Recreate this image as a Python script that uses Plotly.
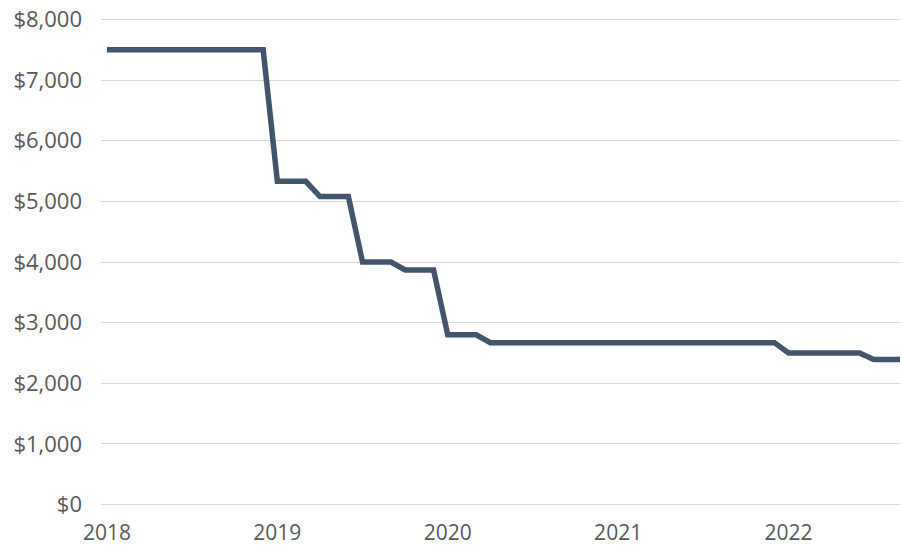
import plotly.graph_objects as go

# Monthly categories Jan 2018 - Sep 2022
years = [2018, 2019, 2020, 2021, 2022]
months = []
for y in years:
    for m in range(1, 13):
        months.append(f"{y}-{m:02d}")
months = months[:57]

values_2018 = [7500, 7500, 7500, 7500, 7500, 7500, 7500, 7500, 7500, 7500, 7500, 7500]
values_2019 = [5330, 5330, 5330, 5080, 5080, 5080, 4000, 4000, 4000, 3870, 3870, 3870]
values_2020 = [2800, 2800, 2800, 2670, 2670, 2670, 2670, 2670, 2670, 2670, 2670, 2670]
values_2021 = [2670, 2670, 2670, 2670, 2670, 2670, 2670, 2670, 2670, 2670, 2670, 2670]
values_2022 = [2500, 2500, 2500, 2500, 2500, 2500, 2390, 2390, 2390]
values = values_2018 + values_2019 + values_2020 + values_2021 + values_2022

tick_labels = ["2018", "2019", "2020", "2021", "2022"]
tick_cats = ["2018-01", "2019-01", "2020-01", "2021-01", "2022-01"]

y_ticks = [0, 1000, 2000, 3000, 4000, 5000, 6000, 7000, 8000]
y_tick_labels = ["$0", "$1,000", "$2,000", "$3,000", "$4,000", "$5,000", "$6,000", "$7,000", "$8,000"]

fig = go.Figure()
fig.add_trace(go.Scatter(
    x=months, y=values, mode="lines",
    line=dict(color="#44546A", width=5.5),
    showlegend=False, hoverinfo="skip",
))

font = dict(family="Open Sans, Lato, sans-serif", size=22, color="#595959")
xfont = dict(family="Open Sans, Lato, sans-serif", size=21, color="#595959")

fig.update_layout(
    width=901, height=547,
    margin=dict(l=101, r=1, t=18, b=41, pad=0),
    paper_bgcolor="white", plot_bgcolor="white",
    font=font,
    xaxis=dict(
        type="category",
        range=[-0.42, 55.85],
        tickmode="array", tickvals=tick_cats, ticktext=tick_labels,
        showgrid=False, zeroline=False, showline=False,
        ticks="", ticklabelstandoff=12, tickfont=xfont,
        ticklabeloverflow="allow",
        automargin=False,
    ),
    yaxis=dict(
        range=[-25, 8025],
        tickmode="array", tickvals=y_ticks, ticktext=y_tick_labels,
        showgrid=True, gridcolor="#D9D9D9", gridwidth=1.2,
        zeroline=False, showline=False,
        ticks="", ticklabelstandoff=18, tickfont=font,
        ticklabeloverflow="allow",
        automargin=False,
    ),
)

fig.write_html(
    "out.html",
    config={"displayModeBar": False},
    post_script="document.body.style.margin='0';document.body.style.overflow='hidden';",
)
